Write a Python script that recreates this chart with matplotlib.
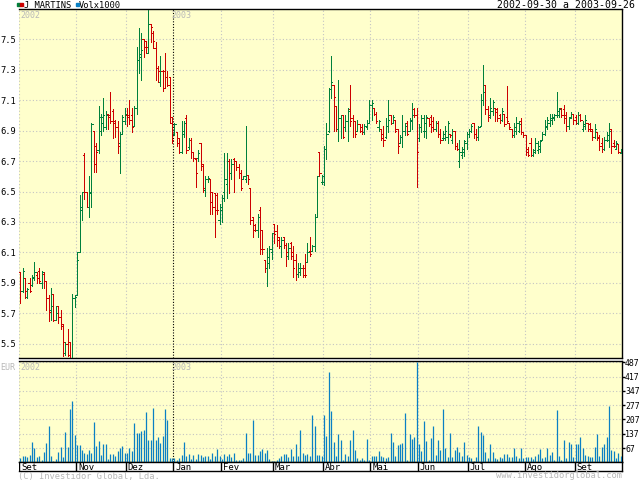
import matplotlib
matplotlib.use("Agg")
import matplotlib.pyplot as plt
from matplotlib.collections import LineCollection
from matplotlib.patches import Rectangle

# daily OHLC, J MARTINS, 2002-09-30 .. 2003-09-26
opens = [
    5.97, 5.85, 5.93, 5.81, 5.90, 5.89, 5.93, 5.95, 5.98, 5.90,
    5.96, 5.91, 5.80, 5.72, 5.83, 5.66, 5.75, 5.68, 5.62, 5.44,
    5.50, 5.51, 5.41, 5.80, 5.82, 6.10, 6.40, 6.74, 6.50, 6.40,
    6.50, 6.90, 6.80, 6.77, 6.90, 6.95, 6.92, 7.01, 7.00, 7.03,
    6.96, 6.92, 6.82, 6.88, 6.96, 7.00, 7.00, 7.00, 6.93, 7.05,
    7.36, 7.38, 7.50, 7.49, 7.41, 7.60, 7.54, 7.44, 7.31, 7.22,
    7.29, 7.29, 7.25, 7.25, 6.99,
    6.88, 6.89, 6.85, 6.76, 6.88, 6.98, 6.79, 6.84, 6.76, 6.71,
    6.72, 6.82, 6.68, 6.51, 6.58, 6.58, 6.50, 6.49, 6.48, 6.31,
    6.38, 6.50, 6.55, 6.70, 6.62, 6.71, 6.70, 6.66, 6.62, 6.58,
    6.58, 6.61, 6.52, 6.33, 6.28, 6.25, 6.38, 6.25, 6.05, 6.00,
    6.03, 6.10, 6.29, 6.24, 6.20, 6.14, 6.20, 6.15, 6.08, 6.16,
    6.10, 6.05, 5.96, 5.97, 6.00, 6.00, 6.04, 6.11, 6.11, 6.14,
    6.33, 6.76, 6.56, 6.56, 6.78, 6.90, 7.17,
    7.20, 7.06, 6.91, 6.98, 7.00, 6.92, 6.96, 7.04, 6.98, 6.96,
    6.90, 6.94, 6.92, 6.89, 6.92, 6.95, 7.07, 7.05, 7.01, 6.92,
    6.91, 6.88, 6.86, 6.93, 7.00, 6.95, 6.97, 6.91, 6.82, 6.86,
    6.90, 6.95, 6.90, 6.96, 7.04, 7.00, 6.85, 6.92, 6.90, 6.90,
    6.98, 6.99, 6.96, 6.91, 6.95, 6.88, 6.85, 6.85, 6.86, 6.88,
    6.84, 6.90, 6.80, 6.70, 6.74, 6.76, 6.82, 6.88,
    6.90, 6.95, 6.88, 6.86, 6.93, 7.10, 7.20, 7.04, 7.00, 7.03,
    7.05, 7.04, 7.00, 6.97, 7.01, 6.99, 6.95, 6.91, 6.87, 6.90,
    6.90, 6.96, 6.89, 6.87, 6.78, 6.82, 6.74, 6.76, 6.77, 6.78,
    6.84, 6.88, 6.92, 6.95, 6.97, 6.98, 7.00, 7.00, 7.05, 7.04,
    7.00, 6.93, 6.99, 7.01, 6.99, 6.95, 7.00, 6.91, 6.93, 6.95,
    6.94, 6.90, 6.86, 6.89, 6.86, 6.82, 6.78, 6.84, 6.84, 6.91,
    6.82, 6.78, 6.81, 6.75,
]
highs = [
    5.97, 6.00, 5.93, 5.87, 5.93, 5.95, 6.04, 5.97, 6.00, 5.98,
    5.97, 5.91, 5.82, 5.87, 5.83, 5.75, 5.75, 5.72, 5.63, 5.51,
    5.60, 5.51, 5.83, 5.82, 6.10, 6.48, 6.50, 6.75, 6.50, 6.60,
    6.95, 6.90, 6.82, 7.06, 7.01, 7.11, 7.03, 7.01, 7.15, 7.04,
    6.97, 6.96, 6.89, 7.00, 7.05, 7.05, 7.10, 7.05, 7.06, 7.45,
    7.57, 7.54, 7.50, 7.49, 7.69, 7.60, 7.55, 7.48, 7.32, 7.39,
    7.30, 7.41, 7.29, 7.25, 6.99,
    6.95, 6.89, 6.85, 6.96, 6.96, 7.00, 6.85, 6.85, 6.76, 6.72,
    6.77, 6.82, 6.68, 6.60, 6.60, 6.58, 6.50, 6.49, 6.49, 6.42,
    6.48, 6.75, 6.75, 6.71, 6.71, 6.72, 6.70, 6.68, 6.64, 6.60,
    6.93, 6.61, 6.52, 6.33, 6.29, 6.35, 6.40, 6.25, 6.05, 6.13,
    6.14, 6.23, 6.29, 6.28, 6.20, 6.20, 6.20, 6.16, 6.16, 6.17,
    6.14, 6.09, 6.03, 6.03, 6.02, 6.09, 6.16, 6.20, 6.15, 6.35,
    6.60, 6.76, 6.61, 6.80, 6.95, 7.18, 7.39,
    7.20, 7.06, 7.23, 7.00, 7.00, 7.00, 7.05, 7.20, 7.00, 6.96,
    6.97, 6.94, 6.94, 6.94, 6.97, 7.10, 7.10, 7.05, 7.02, 6.97,
    6.91, 6.93, 6.98, 7.10, 7.00, 7.00, 6.97, 6.91, 6.87, 7.00,
    6.95, 6.96, 6.98, 7.08, 7.05, 7.05, 6.94, 7.00, 7.00, 7.00,
    6.98, 7.00, 6.99, 6.96, 6.96, 6.91, 6.90, 6.93, 6.96, 6.88,
    6.91, 6.90, 6.82, 6.84, 6.79, 6.84, 6.89, 6.91,
    6.94, 6.95, 6.91, 6.93, 7.14, 7.33, 7.20, 7.06, 7.11, 7.10,
    7.05, 7.05, 7.01, 7.05, 7.01, 7.19, 6.95, 6.91, 6.95, 6.99,
    6.96, 6.98, 6.89, 6.87, 6.79, 6.85, 6.78, 6.85, 6.83, 6.84,
    6.89, 6.97, 6.99, 7.01, 7.01, 7.01, 7.15, 7.05, 7.05, 7.07,
    7.02, 6.99, 7.02, 7.01, 7.00, 7.02, 7.01, 6.96, 7.00, 6.95,
    6.95, 6.91, 6.94, 6.89, 6.87, 6.85, 6.86, 6.89, 6.95, 6.91,
    6.84, 6.83, 6.81, 6.78,
]
lows = [
    5.77, 5.84, 5.80, 5.80, 5.84, 5.88, 5.92, 5.90, 5.90, 5.87,
    5.87, 5.72, 5.65, 5.66, 5.65, 5.66, 5.64, 5.60, 5.42, 5.43,
    5.42, 5.41, 5.41, 5.74, 5.82, 6.10, 6.31, 6.45, 6.40, 6.33,
    6.40, 6.63, 6.63, 6.75, 6.87, 6.90, 6.91, 6.91, 6.95, 6.85,
    6.86, 6.75, 6.62, 6.88, 6.94, 6.93, 6.94, 6.89, 6.93, 7.01,
    7.28, 7.23, 7.38, 7.41, 7.41, 7.48, 7.44, 7.23, 7.22, 7.19,
    7.16, 7.18, 7.19, 6.95, 6.82,
    6.87, 6.80, 6.75, 6.75, 6.86, 6.75, 6.78, 6.72, 6.70, 6.53,
    6.70, 6.64, 6.50, 6.47, 6.56, 6.35, 6.35, 6.20, 6.35, 6.29,
    6.30, 6.44, 6.46, 6.49, 6.58, 6.50, 6.64, 6.59, 6.51, 6.58,
    6.56, 6.55, 6.29, 6.20, 6.24, 6.20, 6.09, 6.09, 5.97, 5.88,
    6.00, 6.06, 6.16, 6.14, 6.13, 6.07, 6.13, 6.01, 6.06, 6.06,
    5.94, 5.92, 5.94, 5.95, 5.94, 5.94, 6.04, 6.08, 6.11, 6.11,
    6.33, 6.60, 6.55, 6.54, 6.71, 6.89, 7.11,
    6.90, 6.90, 6.83, 6.85, 6.85, 6.90, 6.83, 6.93, 6.86, 6.86,
    6.90, 6.89, 6.88, 6.88, 6.91, 6.95, 6.97, 7.00, 6.95, 6.90,
    6.84, 6.80, 6.85, 6.89, 6.94, 6.95, 6.89, 6.75, 6.82, 6.79,
    6.87, 6.87, 6.90, 6.91, 6.99, 6.53, 6.83, 6.89, 6.86, 6.85,
    6.93, 6.89, 6.90, 6.90, 6.86, 6.82, 6.84, 6.84, 6.82, 6.86,
    6.82, 6.78, 6.77, 6.66, 6.72, 6.73, 6.78, 6.86,
    6.89, 6.85, 6.84, 6.84, 6.93, 7.07, 7.01, 6.96, 6.98, 7.00,
    6.96, 6.96, 6.95, 6.96, 6.93, 6.95, 6.91, 6.86, 6.86, 6.88,
    6.89, 6.88, 6.86, 6.74, 6.73, 6.73, 6.73, 6.75, 6.75, 6.76,
    6.84, 6.87, 6.91, 6.93, 6.94, 6.97, 6.99, 6.99, 6.99, 6.95,
    6.90, 6.91, 6.98, 6.94, 6.94, 6.94, 6.96, 6.90, 6.91, 6.90,
    6.90, 6.84, 6.85, 6.84, 6.77, 6.76, 6.77, 6.83, 6.79, 6.75,
    6.79, 6.78, 6.75, 6.75,
]
closes = [
    5.85, 5.98, 5.85, 5.86, 5.85, 5.94, 5.97, 5.93, 5.91, 5.97,
    5.91, 5.80, 5.71, 5.75, 5.66, 5.70, 5.68, 5.63, 5.51, 5.50,
    5.43, 5.41, 5.80, 5.81, 6.05, 6.38, 6.50, 6.50, 6.40, 6.49,
    6.94, 6.68, 6.76, 6.99, 6.99, 7.00, 7.00, 6.99, 6.96, 6.95,
    6.92, 6.80, 6.88, 6.99, 7.01, 6.99, 6.97, 6.92, 7.05, 7.36,
    7.40, 7.43, 7.45, 7.45, 7.60, 7.58, 7.49, 7.31, 7.29, 7.29,
    7.18, 7.25, 7.20, 6.95, 6.84,
    6.94, 6.82, 6.76, 6.90, 6.95, 6.77, 6.84, 6.76, 6.72, 6.62,
    6.75, 6.67, 6.52, 6.58, 6.59, 6.43, 6.40, 6.38, 6.38, 6.40,
    6.46, 6.58, 6.70, 6.62, 6.68, 6.70, 6.66, 6.62, 6.52, 6.60,
    6.61, 6.58, 6.31, 6.25, 6.25, 6.33, 6.12, 6.12, 6.00, 6.07,
    6.12, 6.23, 6.22, 6.18, 6.14, 6.18, 6.15, 6.10, 6.13, 6.08,
    6.00, 5.96, 6.00, 6.00, 5.95, 5.95, 6.10, 6.09, 6.14, 6.33,
    6.60, 6.62, 6.60, 6.78, 6.88, 7.17, 7.22,
    7.12, 6.91, 6.98, 7.00, 6.86, 6.96, 7.03, 6.96, 6.96, 6.88,
    6.94, 6.90, 6.89, 6.93, 6.95, 7.07, 7.08, 7.01, 6.96, 6.96,
    6.85, 6.84, 6.93, 6.97, 6.95, 6.99, 6.90, 6.80, 6.86, 6.90,
    6.93, 6.88, 6.97, 7.00, 7.00, 6.76, 6.92, 6.98, 6.95, 6.99,
    6.94, 6.92, 6.91, 6.95, 6.88, 6.84, 6.88, 6.90, 6.95, 6.87,
    6.90, 6.80, 6.78, 6.76, 6.78, 6.83, 6.88, 6.90,
    6.93, 6.88, 6.86, 6.92, 7.10, 7.15, 7.04, 6.99, 7.05, 7.09,
    7.02, 6.98, 6.97, 7.03, 6.94, 6.96, 6.92, 6.87, 6.92, 6.95,
    6.94, 6.89, 6.87, 6.76, 6.74, 6.74, 6.77, 6.82, 6.80, 6.83,
    6.88, 6.93, 6.97, 6.98, 6.99, 7.00, 7.03, 7.04, 7.00, 6.98,
    6.93, 6.98, 7.01, 6.97, 6.95, 7.00, 6.97, 6.94, 6.97, 6.91,
    6.91, 6.86, 6.91, 6.85, 6.80, 6.78, 6.84, 6.87, 6.90, 6.80,
    6.80, 6.82, 6.76, 6.76,
]

# volume, thousands of shares
volumes = [
    18, 29, 29, 21, 34, 98, 68, 22, 29, 10, 49, 93, 177, 29, 5, 11, 49, 70, 22, 146, 73, 259, 297, 131,
    83, 83, 59, 42, 36, 59, 42, 193, 77, 99, 34, 88, 88, 11, 39, 39, 26, 54, 65, 77, 44,
    44, 68, 51, 187, 142, 140, 150, 153, 241, 104, 104, 264, 104, 121, 93, 124, 257, 203, 20, 18,
    18, 10, 20, 32, 98, 29, 39, 11, 32, 13, 36, 31, 22, 29, 29, 13, 42, 29, 63, 29,
    13, 38, 29, 39, 22, 44, 10, 10, 10, 18, 142, 42, 44, 203, 34, 34, 54, 60, 42, 55, 15, 5,
    5, 10, 18, 26, 36, 36, 22, 63, 29, 88, 29, 153, 41, 31, 39, 29, 229, 177, 34, 34, 30,
    228, 127, 439, 248, 98, 29, 137, 108, 10, 39, 29, 108, 157, 59, 16, 7, 16, 8, 112, 8,
    29, 26, 29, 54, 29, 22, 16, 24, 142, 98, 29, 83, 86, 91, 236, 10, 137, 111, 119, 487,
    88, 51, 201, 103, 10, 117, 177, 34, 104, 55, 259, 68, 22, 142, 24, 59, 73, 49, 29, 96, 34,
    24, 18, 5, 24, 177, 145, 131, 49, 16, 86, 49, 18, 13, 22, 20, 39, 39, 22, 22, 68, 29, 18, 67, 16,
    24, 24, 22, 13, 29, 36, 61, 16, 22, 68, 34, 49, 10, 254, 29, 8, 104, 16, 98, 86, 22,
    88, 88, 119, 68, 34, 29, 22, 22, 71, 137, 26, 71, 88, 122, 275, 55, 51, 18, 41, 26,
]

month_first = [0, 24, 45, 65, 85, 107, 128, 148, 168, 189, 213, 234]
month_labels = ["Set", "Nov", "Dez", "Jan", "Fev", "Mar", "Abr", "Mai", "Jun", "Jul", "Ago", "Set"]
year_start = 65

price_ticks = [5.5, 5.7, 5.9, 6.1, 6.3, 6.5, 6.7, 6.9, 7.1, 7.3, 7.5]
vol_ticks = [67, 137, 207, 277, 347, 417, 487]

GREEN = "#00803c"
RED = "#cc0000"
BLUE = "#0a80c4"
PANEL = "#ffffcc"
GRID = "#c4c4c4"
FAINT = "#b8b8b8"
MONO = "DejaVu Sans Mono"
ONE_PX = 0.72  # one pixel at 100 dpi, in points

W, H = 640, 480


def px_rect(x0, y0, x1, y1):
    return [x0 / W, 1 - y1 / H, (x1 - x0) / W, (y1 - y0) / H]


def ftext(x, y, s, **kw):
    kw.setdefault("family", MONO)
    kw.setdefault("va", "center")
    fig.text(x / W, 1 - y / H, s, **kw)


def fsquare(x, y, w, h, color):
    fig.patches.append(Rectangle((x / W, 1 - (y + h) / H), w / W, h / H,
                                 color=color, transform=fig.transFigure))


n = len(closes)
fig = plt.figure(figsize=(W / 100, H / 100), dpi=100)

ax_p = fig.add_axes(px_rect(19, 9, 622, 358))
ax_v = fig.add_axes(px_rect(19, 361, 622, 462))
ax_m = fig.add_axes(px_rect(19, 462, 622, 471))

for ax in (ax_p, ax_v, ax_m):
    ax.set_xlim(-0.5, n - 0.5)
    ax.set_xticks([])
    for side in ("top", "bottom", "right"):
        ax.spines[side].set_linewidth(1.0)
    ax.spines["left"].set_visible(False)

# month grid lines
for ax in (ax_p, ax_v):
    ax.set_facecolor(PANEL)
    for m in month_first:
        if m == year_start:
            ax.axvline(m - 0.5, color="black", lw=0.8, ls=(0, (1, 1.5)), zorder=1)
        else:
            ax.axvline(m - 0.5, color=GRID, lw=0.8, ls=(0, (1, 2)), zorder=1)

# price panel: OHLC bars
segs, cols = [], []
for i in range(n):
    c = GREEN if closes[i] >= opens[i] else RED
    segs += [[(i, lows[i]), (i, highs[i])],
             [(i - 0.5, opens[i]), (i, opens[i])],
             [(i, closes[i]), (i + 0.5, closes[i])]]
    cols += [c, c, c]
ax_p.add_collection(LineCollection(segs, colors=cols, linewidths=ONE_PX,
                                   antialiaseds=False, zorder=3))
ax_p.set_ylim(5.408, 7.697)
ax_p.set_yticks(price_ticks)
ax_p.set_yticklabels(["%.1f" % t for t in price_ticks], family=MONO, fontsize=6.3)
ax_p.tick_params(axis="y", length=0, pad=1.8)
ax_p.grid(axis="y", color=GRID, lw=0.8, ls=(0, (1, 2)), zorder=1)
ax_p.set_axisbelow(True)

# volume panel
ax_v.vlines(range(n), 0, volumes, colors=BLUE, lw=0.9, zorder=3)
ax_v.set_ylim(-1.5, 493)
ax_v.set_yticks(vol_ticks)
ax_v.yaxis.tick_right()
ax_v.set_yticklabels([str(t) for t in vol_ticks], family=MONO, fontsize=5.9)
ax_v.tick_params(axis="y", direction="out", length=2.0, width=1.0, pad=0.2)
ax_v.grid(axis="y", color=GRID, lw=0.8, ls=(0, (1, 2)), zorder=1)
ax_v.set_axisbelow(True)

# month label strip
ax_m.set_ylim(0, 1)
ax_m.set_yticks([])
ax_m.set_facecolor("white")
for m, lab in zip(month_first, month_labels):
    ax_m.axvline(m - 0.5, color="black", lw=1.0)
    ax_m.text(m + 0.3, 0.42, lab, family=MONO, fontsize=6.5, va="center", ha="left")

# header
fsquare(17.3, 3.3, 2.2, 3.0, GREEN)
fsquare(20.4, 3.3, 2.2, 3.0, RED)
ftext(24, 5.5, "J MARTINS", fontsize=6.3)
fsquare(76.3, 3.3, 2.2, 3.0, BLUE)
ftext(79, 5.5, "Volx1000", fontsize=6.3)
ftext(635, 5.5, "2002-09-30 a 2003-09-26", fontsize=7.1, ha="right")

# year and currency marks
ftext(20, 15, "2002", fontsize=6, color=FAINT)
ftext(171, 15, "2003", fontsize=6, color=FAINT)
ftext(20, 367.5, "2002", fontsize=6, color=FAINT)
ftext(171, 367.5, "2003", fontsize=6, color=FAINT)
ftext(0.5, 367.5, "EUR", fontsize=6, color=FAINT)

# footer
ftext(18, 476, "(C) Investidor Global, Lda.", fontsize=6.3, color=FAINT)
ftext(622, 476, "www.investidorglobal.com", fontsize=6.3, color=FAINT, ha="right")

fig.savefig("out.png", dpi=100, facecolor="white")
